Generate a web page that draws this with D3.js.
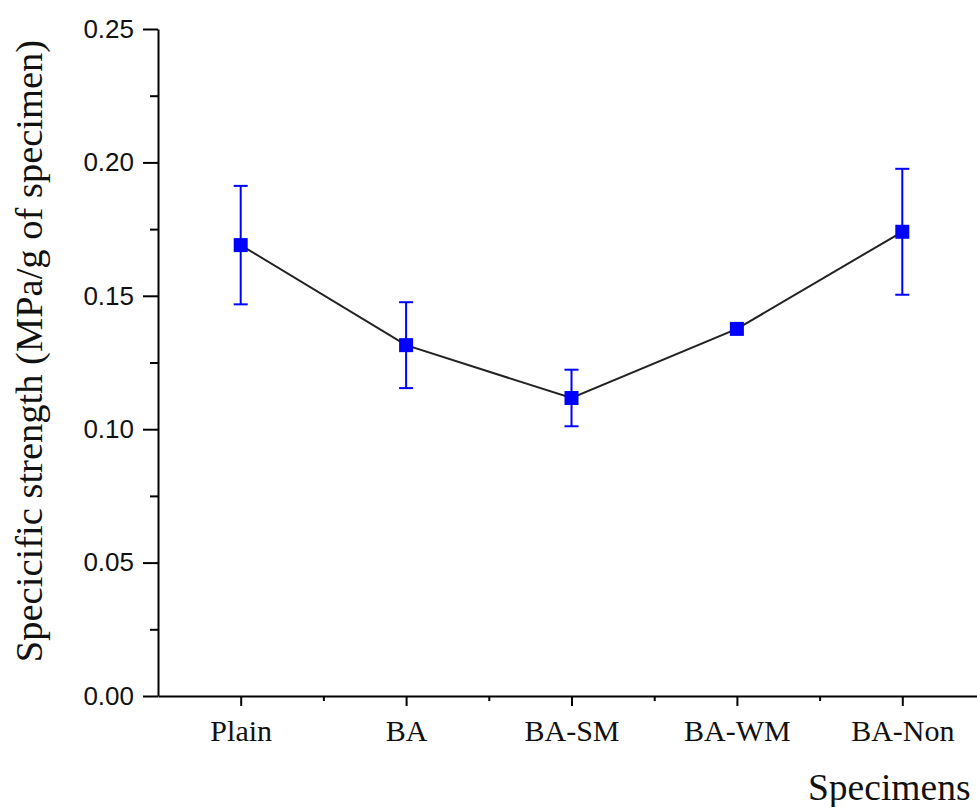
<!DOCTYPE html>
<html>
<head>
<meta charset="utf-8">
<script src="https://cdn.jsdelivr.net/npm/d3@7/dist/d3.min.js"></script>
<style>
  body { margin: 0; background: #fff; }
</style>
</head>
<body>
<div id="chart"></div>
<script>
const categories = ["Plain", "BA", "BA-SM", "BA-WM", "BA-Non"];
const means      = [0.169, 0.1315, 0.1117, 0.1376, 0.174];
const errors     = [0.0222, 0.0161, 0.0106, 0.0008, 0.0236];
const yTicks     = [0, 0.05, 0.10, 0.15, 0.20, 0.25];

const WIDTH  = 977;
const HEIGHT = 807;
const MARGIN = { top: 29, right: 0, bottom: 111, left: 158 };

const svg = d3.select("#chart")
    .append("svg")
    .attr("width", WIDTH)
    .attr("height", HEIGHT);

const x = d3.scaleLinear().domain([0.5, 5.5]).range([MARGIN.left, MARGIN.left + 827]);
const y = d3.scaleLinear().domain([0, 0.25]).range([HEIGHT - MARGIN.bottom, MARGIN.top]);

const data = categories.map((c, i) => ({ cat: c, pos: i + 1, v: means[i], e: errors[i] }));

// x axis: major ticks on categories, minor ones in between
const xAxis = svg.append("g")
    .attr("transform", `translate(0,${y(0)})`)
    .call(d3.axisBottom(x).tickValues(d3.range(1, 6)).tickFormat((d, i) => categories[i]).tickSize(10).tickSizeOuter(0));
xAxis.select(".domain").attr("stroke-width", 2);
xAxis.selectAll(".tick line").attr("stroke-width", 2);
xAxis.selectAll("text")
    .attr("font-family", "'Liberation Serif', 'Times New Roman', serif")
    .attr("font-size", 30)
    .attr("fill", "#111")
    .attr("dy", "1.05em");
svg.append("g")
    .attr("transform", `translate(0,${y(0)})`)
    .call(d3.axisBottom(x).tickValues([1.5, 2.5, 3.5, 4.5, 5.5]).tickFormat("").tickSize(5))
    .call(g => g.select(".domain").remove())
    .selectAll(".tick line").attr("stroke-width", 2);

// y axis
const yAxis = svg.append("g")
    .attr("transform", `translate(${MARGIN.left},0)`)
    .call(d3.axisLeft(y).tickValues(yTicks).tickFormat(d3.format(".2f")).tickSize(15).tickSizeOuter(0).tickPadding(9));
yAxis.select(".domain").attr("stroke-width", 2);
yAxis.selectAll(".tick line").attr("stroke-width", 2);
yAxis.selectAll("text")
    .attr("font-family", "'Liberation Sans', Arial, sans-serif")
    .attr("font-size", 26)
    .attr("fill", "#111");
svg.append("g")
    .attr("transform", `translate(${MARGIN.left},0)`)
    .call(d3.axisLeft(y).tickValues([0.025, 0.075, 0.125, 0.175, 0.225]).tickFormat("").tickSize(8))
    .call(g => g.select(".domain").remove())
    .selectAll(".tick line").attr("stroke-width", 2);

// axis titles
svg.append("text")
    .attr("x", 808)
    .attr("y", 800)
    .attr("font-family", "'Liberation Serif', 'Times New Roman', serif")
    .attr("font-size", 37.5)
    .attr("fill", "#111")
    .text("Specimens");

svg.append("text")
    .attr("transform", `translate(42,351) rotate(-90)`)
    .attr("text-anchor", "middle")
    .attr("font-family", "'Liberation Serif', 'Times New Roman', serif")
    .attr("font-size", 38.5)
    .attr("fill", "#111")
    .text("Specicific strength (MPa/g of specimen)");

// connecting line
const line = d3.line().x(d => x(d.pos)).y(d => y(d.v));
svg.append("path")
    .datum(data)
    .attr("fill", "none")
    .attr("stroke", "#222")
    .attr("stroke-width", 2)
    .attr("d", line);

// error bars
const CAP = 7;
const eb = svg.append("g").attr("stroke", "#0000ff").attr("stroke-width", 2);
eb.selectAll(".stem")
    .data(data)
    .join("line")
    .attr("x1", d => x(d.pos)).attr("x2", d => x(d.pos))
    .attr("y1", d => y(d.v - d.e)).attr("y2", d => y(d.v + d.e));
eb.selectAll(".capTop")
    .data(data.filter(d => d.e > 0.002))
    .join("line")
    .attr("x1", d => x(d.pos) - CAP).attr("x2", d => x(d.pos) + CAP)
    .attr("y1", d => y(d.v + d.e)).attr("y2", d => y(d.v + d.e));
eb.selectAll(".capBot")
    .data(data.filter(d => d.e > 0.002))
    .join("line")
    .attr("x1", d => x(d.pos) - CAP).attr("x2", d => x(d.pos) + CAP)
    .attr("y1", d => y(d.v - d.e)).attr("y2", d => y(d.v - d.e));

// markers
const S = 14;
svg.selectAll(".pt")
    .data(data)
    .join("rect")
    .attr("x", d => x(d.pos) - S / 2)
    .attr("y", d => y(d.v) - S / 2)
    .attr("width", S)
    .attr("height", S)
    .attr("fill", "#0000ff");
</script>
</body>
</html>
